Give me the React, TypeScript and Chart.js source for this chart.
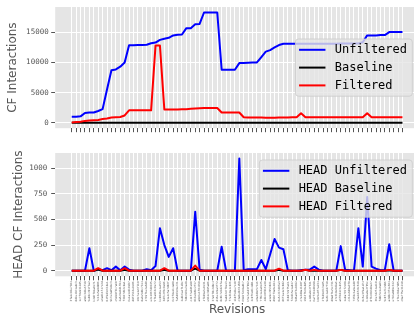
import React, { useEffect, useRef } from "react";
import { Chart, registerables } from "chart.js";

Chart.register(...registerables);

const revisions = [
  "3fa1c92e7b04", "8d2e4b61a9c3", "1c7f0e93b2d5", "a94b3d2e6f18", "5e08c7d1f3a2", "b2d6f94a0c71", "7c13e5a8d906", "e6a0b1f47c2d", "04f9d3c6b8e1", "9b7e2a05d4c3",
  "c5d18f3b7a60", "2a6c9e0d1f84", "f3b07d52c9a1", "6e4a1c8b0d37", "d8f25b3e9c06", "10c7a4e6f2b9", "8a3e5d0c7b14", "47b9f1e2a6d0", "e2c4067d9b35", "5f1a8b3c0e72",
  "bc90d6e4a153", "3d7b2f0c8e96", "91e4c5a7d02f", "6c2f8e1b4a09", "fa5d03c9e721", "2e8b6a4f1d3c", "7d0c9b5e3a48", "c41f7a2d6e90", "0b3e8d5c2f17", "a8c6e1f04b59",
  "4f2d9a7e0c31", "e9b1c3d85a06", "37a5f0b2d8c4", "d16e4c9a3f72", "8c0b7e5d21fa", "5a9d2c6f8e13", "f7e3b0a4c926", "1b8f5d2e7c40", "c3a0e9b61d58", "69d4f2c8a0b7",
  "b5e7a1d3f092", "2c9f6e0b4d81", "e0a3d8c57b16", "7f6b1e4a9c25", "4d2c0f8b6e39", "a1e9c7d5302b", "d9b6f3a0e184", "0e5c2b7d9fa3", "86f1a4e3c0d2", "3b0d7c9f5e61",
  "f2c8b5e1a047", "5d6a0f3e8b92", "c7e2d9a4b10f", "19b3f6c0e8d5", "e4d0a8c2f631", "6a7f3b1d0c98", "b8c5e0f7a234", "2f1d9c6b3e05", "9e6b4a2d7f10", "d0a8f1e5c73b",
  "47c3b9e0d2a6", "a6f0d4c3e915", "1e9a7b5f2c08", "c2b4e6d0a3f9", "73f8c1a9e4d0", "e5a2d7b0c618", "0c6e3f9a1d74", "b4d1a8e2f05c", "8f3c0b6d9e27", "36e7d2f4a1b0",
  "fd9b5c1e0a83", "5c0f4e7b2d96", "a2d8c3f1e604", "e7b6a0d9c342", "1f4e2b8a7d05", "c9a7f5e3b210"
];

const cfUnfiltered = [
  1000, 1000, 1050, 1600, 1700, 1700, 1950, 2250, 5500, 8700,
  8850, 9300, 10000, 12850, 12850, 12900, 12900, 12950, 13200, 13300,
  13750, 13950, 14100, 14500, 14600, 14650, 15700, 15700, 16350, 16400,
  18300, 18300, 18300, 18300, 8800, 8800, 8800, 8800, 9900, 9900,
  9950, 10000, 10000, 10900, 11800, 12050, 12500, 12900, 13100, 13100,
  13100, 13100, 13100, 13100, 13100, 13100, 13100, 13100, 13100, 13100,
  13100, 13150, 13150, 13150, 13150, 13150, 13350, 14500, 14500, 14500,
  14550, 14550, 15050, 15050, 15050, 15050
];
const cfBaseline = [
  0, 0, 0, 0, 0, 0, 0, 0, 0, 0, 0, 0, 0, 0, 0, 0, 0, 0, 0, 0,
  0, 0, 0, 0, 0, 0, 0, 0, 0, 0, 0, 0, 0, 0, 0, 0, 0, 0, 0, 0,
  0, 0, 0, 0, 0, 0, 0, 0, 0, 0, 0, 0, 0, 0, 0, 0, 0, 0, 0, 0,
  0, 0, 0, 0, 0, 0, 0, 0, 0, 0, 0, 0, 0, 0, 0, 0
];
const cfFiltered = [
  50, 100, 150, 300, 350, 400, 450, 600, 700, 850,
  900, 950, 1200, 2050, 2050, 2050, 2050, 2050, 2050, 12800,
  12800, 2200, 2200, 2200, 2200, 2250, 2250, 2300, 2350, 2400,
  2450, 2450, 2450, 2450, 1700, 1700, 1700, 1700, 1700, 900,
  880, 870, 860, 850, 840, 830, 840, 850, 860, 880,
  900, 900, 1550, 900, 900, 900, 900, 900, 900, 900,
  900, 900, 900, 900, 900, 900, 900, 1550, 900, 900,
  900, 900, 900, 900, 900, 900
];

const headUnfiltered = [
  0, 0, 0, 0, 220, 0, 15, 5, 25, 5,
  40, 5, 40, 10, 0, 0, 0, 15, 5, 45,
  415, 250, 135, 220, 0, 0, 0, 0, 575, 10,
  0, 0, 0, 0, 235, 0, 0, 0, 1095, 5,
  15, 15, 15, 105, 15, 160, 310, 225, 210, 5,
  0, 0, 5, 10, 10, 40, 10, 0, 0, 0,
  0, 240, 10, 5, 0, 415, 40, 720, 40, 20,
  5, 5, 258, 0, 0, 0
];
const headBaseline = [
  0, 0, 0, 0, 0, 0, 12, 0, 0, 0,
  0, 0, 10, 0, 0, 0, 0, 0, 0, 0,
  0, 10, 0, 0, 0, 0, 0, 0, 20, 0,
  0, 0, 0, 0, 0, 0, 0, 0, 0, 0,
  0, 0, 0, 0, 0, 0, 0, 10, 0, 0,
  0, 0, 0, 8, 0, 0, 0, 0, 0, 0,
  0, 8, 0, 0, 0, 0, 0, 0, 0, 0,
  0, 0, 5, 0, 0, 0
];
const headFiltered = [
  0, 0, 0, 0, 0, 0, 25, 0, 0, 0,
  0, 0, 25, 0, 0, 0, 0, 0, 0, 0,
  0, 25, 0, 0, 0, 0, 0, 0, 50, 0,
  0, 0, 0, 0, 0, 0, 0, 0, 0, 0,
  0, 0, 0, 0, 0, 0, 0, 20, 0, 0,
  0, 0, 0, 10, 0, 8, 0, 0, 0, 0,
  0, 8, 0, 0, 0, 0, 0, 0, 0, 0,
  0, 0, 8, 0, 0, 0
];

const topYTicks = [0, 5000, 10000, 15000];
const bottomYTicks = [0, 250, 500, 750, 1000];
const topLabels = ["Unfiltered", "Baseline", "Filtered"];
const bottomLabels = ["HEAD Unfiltered", "HEAD Baseline", "HEAD Filtered"];

const MONO = "'DejaVu Sans Mono', monospace";
const SANS = "'DejaVu Sans', sans-serif";
const COLORS = ["#0000FF", "#000000", "#FF0000"];

const bgPlugin = {
  id: "axesBg",
  beforeDraw(chart: any) {
    const { ctx, chartArea: a } = chart;
    ctx.save();
    ctx.fillStyle = "#E5E5E5";
    ctx.fillRect(a.left, a.top, a.right - a.left, a.bottom - a.top);
    ctx.restore();
  },
};

const boxLegendPlugin = {
  id: "boxLegend",
  afterDatasetsDraw(chart: any, _args: any, opts: any) {
    const { ctx, chartArea: a } = chart;
    const fs = 12, padL = 3.6, handleLen = 26.4, gap = 9.3, padR = 5.3, padV = 4.8, rowH = 17.8;
    ctx.save();
    ctx.font = `${fs}px ${MONO}`;
    const ds = chart.data.datasets;
    const maxW = Math.max(...ds.map((d: any) => ctx.measureText(d.label).width));
    const w = padL + handleLen + gap + maxW + padR;
    const h = padV * 2 + fs + rowH * (ds.length - 1);
    const right = a.right - 6.7;
    const left = right - w;
    const top = opts.place === "center" ? (a.top + a.bottom) / 2 - h / 2 : a.top + 7;
    ctx.beginPath();
    ctx.roundRect(left, top, w, h, 3);
    ctx.fillStyle = "rgba(229,229,229,0.8)";
    ctx.fill();
    ctx.strokeStyle = "rgba(204,204,204,0.8)";
    ctx.lineWidth = 1;
    ctx.stroke();
    ds.forEach((d: any, k: number) => {
      const cy = top + padV + fs / 2 + k * rowH;
      ctx.beginPath();
      ctx.moveTo(left + padL, cy);
      ctx.lineTo(left + padL + handleLen, cy);
      ctx.strokeStyle = d.borderColor;
      ctx.lineWidth = 2;
      ctx.stroke();
      ctx.fillStyle = "#000";
      ctx.textBaseline = "middle";
      ctx.textAlign = "left";
      ctx.fillText(d.label, left + padL + handleLen + gap, cy);
    });
    ctx.restore();
  },
};

function makeDatasets(labels: string[], series: number[][]) {
  return series.map((s, k) => ({
    label: labels[k],
    data: s.map((y, i) => ({ x: i, y })),
    borderColor: COLORS[k],
    backgroundColor: COLORS[k],
    borderWidth: 2,
    borderJoinStyle: "round" as const,
    pointRadius: 0,
    tension: 0,
    fill: false,
    order: 2 - k,
  }));
}

function makeConfig(bottom: boolean): any {
  const n = revisions.length;
  const margin = (n - 1) * 0.05;
  const yMax = bottom ? 1095 : 18300;
  const yMargin = yMax * 0.05;
  const grid = { color: "#FFFFFF", lineWidth: 1, tickColor: "#555555", tickLength: 4, tickWidth: 1 };
  return {
    type: "line",
    data: {
      datasets: bottom
        ? makeDatasets(bottomLabels, [headUnfiltered, headBaseline, headFiltered])
        : makeDatasets(topLabels, [cfUnfiltered, cfBaseline, cfFiltered]),
    },
    options: {
      animation: false,
      responsive: false,
      maintainAspectRatio: false,
      layout: { padding: { left: 0, right: 0, top: bottom ? 13 : 5.7, bottom: 0 } },
      plugins: {
        legend: { display: false },
        tooltip: { enabled: false },
        boxLegend: { place: bottom ? "top" : "center" },
      },
      scales: {
        x: {
          type: "linear",
          min: -margin,
          max: n - 1 + margin,
          afterBuildTicks: (s: any) => {
            s.ticks = revisions.map((_, i) => ({ value: i }));
          },
          afterFit: (s: any) => {
            s.height = bottom ? 43.7 : 11.8;
          },
          grid,
          border: { display: false },
          ticks: {
            display: bottom,
            autoSkip: false,
            minRotation: 90,
            maxRotation: 90,
            padding: 1,
            color: "#555555",
            font: { family: MONO, size: 2.8 },
            callback: (v: number) => revisions[v],
          },
          title: {
            display: bottom,
            text: "Revisions",
            color: "#555555",
            font: { family: SANS, size: 12 },
            padding: { top: 0, bottom: 2.5 },
          },
        },
        y: {
          min: -yMargin,
          max: yMax + yMargin,
          afterBuildTicks: (s: any) => {
            s.ticks = (bottom ? bottomYTicks : topYTicks).map((v) => ({ value: v }));
          },
          afterFit: (s: any) => {
            s.width = 55.2;
          },
          grid,
          border: { display: false },
          ticks: {
            color: "#555555",
            padding: bottom ? 4 : 2.5,
            font: { family: MONO, size: 7.5 },
            callback: (v: number) => String(v),
          },
          title: {
            display: true,
            text: bottom ? "HEAD CF Interactions" : "CF Interactions",
            color: "#555555",
            font: { family: SANS, size: 12 },
            padding: { top: bottom ? 12 : 6.1, bottom: 0 },
          },
        },
      },
    },
    plugins: [bgPlugin, boxLegendPlugin],
  };
}

function PlotCanvas({ bottom, height }: { bottom: boolean; height: number }) {
  const ref = useRef<HTMLCanvasElement | null>(null);
  useEffect(() => {
    if (!ref.current) return;
    const chart = new Chart(ref.current, makeConfig(bottom));
    return () => chart.destroy();
  }, [bottom]);
  return (
    <canvas
      ref={ref}
      width={419}
      height={height}
      style={{ display: "block", width: 419, height }}
    />
  );
}

export default function App() {
  return (
    <div
      style={{
        position: "fixed",
        left: 0,
        top: 0,
        width: 414,
        height: 320,
        overflow: "hidden",
        background: "#FFFFFF",
      }}
    >
      <PlotCanvas bottom={false} height={140} />
      <PlotCanvas bottom={true} height={180} />
    </div>
  );
}
